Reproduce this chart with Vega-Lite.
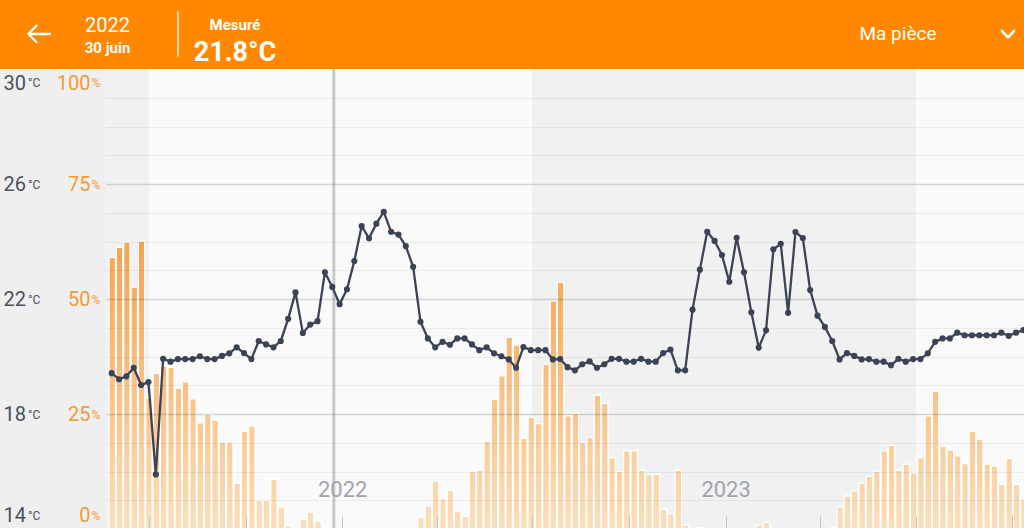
{
  "$schema": "https://vega.github.io/schema/vega-lite/v6.json",
  "background": "#ff8800",
  "padding": 0,
  "spacing": 0,
  "config": {"view": {"stroke": null}, "font": "Roboto"},
  "datasets": {
    "weekly": [
      {"week": "2021-05-23", "temp": 19.42, "pct": 59.0},
      {"week": "2021-05-30", "temp": 19.21, "pct": 61.2},
      {"week": "2021-06-06", "temp": 19.31, "pct": 62.4},
      {"week": "2021-06-13", "temp": 19.61, "pct": 52.6},
      {"week": "2021-06-20", "temp": 19.01, "pct": 62.6},
      {"week": "2021-06-27", "temp": 19.11, "pct": 28.5},
      {"week": "2021-07-04", "temp": 15.90, "pct": 33.8},
      {"week": "2021-07-11", "temp": 19.92, "pct": 35.4},
      {"week": "2021-07-18", "temp": 19.82, "pct": 35.1},
      {"week": "2021-07-25", "temp": 19.91, "pct": 30.6},
      {"week": "2021-08-01", "temp": 19.91, "pct": 32.0},
      {"week": "2021-08-08", "temp": 19.91, "pct": 28.3},
      {"week": "2021-08-15", "temp": 20.01, "pct": 23.1},
      {"week": "2021-08-22", "temp": 19.91, "pct": 24.9},
      {"week": "2021-08-29", "temp": 19.91, "pct": 23.7},
      {"week": "2021-09-05", "temp": 20.02, "pct": 18.9},
      {"week": "2021-09-12", "temp": 20.11, "pct": 18.9},
      {"week": "2021-09-19", "temp": 20.32, "pct": 9.9},
      {"week": "2021-09-26", "temp": 20.12, "pct": 21.2},
      {"week": "2021-10-03", "temp": 19.91, "pct": 22.4},
      {"week": "2021-10-10", "temp": 20.54, "pct": 6.2},
      {"week": "2021-10-17", "temp": 20.42, "pct": 6.2},
      {"week": "2021-10-24", "temp": 20.32, "pct": 10.8},
      {"week": "2021-10-31", "temp": 20.54, "pct": 4.8},
      {"week": "2021-11-07", "temp": 21.31, "pct": 0.7},
      {"week": "2021-11-14", "temp": 22.23, "pct": 0},
      {"week": "2021-11-21", "temp": 20.82, "pct": 2.1},
      {"week": "2021-11-28", "temp": 21.11, "pct": 3.6},
      {"week": "2021-12-05", "temp": 21.23, "pct": 1.7},
      {"week": "2021-12-12", "temp": 22.93, "pct": 0.2},
      {"week": "2021-12-19", "temp": 22.42, "pct": 0},
      {"week": "2021-12-26", "temp": 21.82, "pct": 0},
      {"week": "2022-01-02", "temp": 22.34, "pct": 0},
      {"week": "2022-01-09", "temp": 23.32, "pct": 0},
      {"week": "2022-01-16", "temp": 24.54, "pct": 0},
      {"week": "2022-01-23", "temp": 24.11, "pct": 0},
      {"week": "2022-01-30", "temp": 24.62, "pct": 0},
      {"week": "2022-02-06", "temp": 25.03, "pct": 0},
      {"week": "2022-02-13", "temp": 24.34, "pct": 0},
      {"week": "2022-02-20", "temp": 24.24, "pct": 0},
      {"week": "2022-02-27", "temp": 23.84, "pct": 0},
      {"week": "2022-03-06", "temp": 23.12, "pct": 0},
      {"week": "2022-03-13", "temp": 21.21, "pct": 2.6},
      {"week": "2022-03-20", "temp": 20.63, "pct": 5.0},
      {"week": "2022-03-27", "temp": 20.32, "pct": 10.4},
      {"week": "2022-04-03", "temp": 20.51, "pct": 6.6},
      {"week": "2022-04-10", "temp": 20.41, "pct": 8.4},
      {"week": "2022-04-17", "temp": 20.63, "pct": 3.9},
      {"week": "2022-04-24", "temp": 20.63, "pct": 2.8},
      {"week": "2022-05-01", "temp": 20.42, "pct": 12.5},
      {"week": "2022-05-08", "temp": 20.22, "pct": 12.8},
      {"week": "2022-05-15", "temp": 20.32, "pct": 19.1},
      {"week": "2022-05-22", "temp": 20.11, "pct": 28.2},
      {"week": "2022-05-29", "temp": 20.01, "pct": 33.3},
      {"week": "2022-06-05", "temp": 19.90, "pct": 41.7},
      {"week": "2022-06-12", "temp": 19.61, "pct": 40.0},
      {"week": "2022-06-19", "temp": 20.33, "pct": 19.7},
      {"week": "2022-06-26", "temp": 20.22, "pct": 24.3},
      {"week": "2022-07-03", "temp": 20.22, "pct": 22.9},
      {"week": "2022-07-10", "temp": 20.22, "pct": 35.8},
      {"week": "2022-07-17", "temp": 19.90, "pct": 49.6},
      {"week": "2022-07-24", "temp": 19.91, "pct": 53.6},
      {"week": "2022-07-31", "temp": 19.63, "pct": 24.6},
      {"week": "2022-08-07", "temp": 19.52, "pct": 25.1},
      {"week": "2022-08-14", "temp": 19.73, "pct": 18.8},
      {"week": "2022-08-21", "temp": 19.83, "pct": 19.9},
      {"week": "2022-08-28", "temp": 19.61, "pct": 29.1},
      {"week": "2022-09-04", "temp": 19.73, "pct": 27.3},
      {"week": "2022-09-11", "temp": 19.92, "pct": 15.5},
      {"week": "2022-09-18", "temp": 19.92, "pct": 12.5},
      {"week": "2022-09-25", "temp": 19.82, "pct": 17.0},
      {"week": "2022-10-02", "temp": 19.82, "pct": 17.0},
      {"week": "2022-10-09", "temp": 19.92, "pct": 12.8},
      {"week": "2022-10-16", "temp": 19.82, "pct": 11.9},
      {"week": "2022-10-23", "temp": 19.82, "pct": 11.9},
      {"week": "2022-10-30", "temp": 20.12, "pct": 4.3},
      {"week": "2022-11-06", "temp": 20.24, "pct": 3.3},
      {"week": "2022-11-13", "temp": 19.52, "pct": 12.8},
      {"week": "2022-11-20", "temp": 19.52, "pct": 0.9},
      {"week": "2022-11-27", "temp": 21.63, "pct": 0},
      {"week": "2022-12-04", "temp": 23.02, "pct": 0.3},
      {"week": "2022-12-11", "temp": 24.34, "pct": 0},
      {"week": "2022-12-18", "temp": 24.02, "pct": 0},
      {"week": "2022-12-25", "temp": 23.53, "pct": 0},
      {"week": "2023-01-01", "temp": 22.60, "pct": 0},
      {"week": "2023-01-08", "temp": 24.13, "pct": 0},
      {"week": "2023-01-15", "temp": 22.93, "pct": 0},
      {"week": "2023-01-22", "temp": 21.54, "pct": 0},
      {"week": "2023-01-29", "temp": 20.31, "pct": 0.9},
      {"week": "2023-02-05", "temp": 20.91, "pct": 1.4},
      {"week": "2023-02-12", "temp": 23.73, "pct": 0},
      {"week": "2023-02-19", "temp": 23.92, "pct": 0},
      {"week": "2023-02-26", "temp": 21.52, "pct": 0},
      {"week": "2023-03-05", "temp": 24.33, "pct": 0},
      {"week": "2023-03-12", "temp": 24.12, "pct": 0},
      {"week": "2023-03-19", "temp": 22.31, "pct": 0},
      {"week": "2023-03-26", "temp": 21.42, "pct": 0},
      {"week": "2023-04-02", "temp": 21.03, "pct": 0},
      {"week": "2023-04-09", "temp": 20.54, "pct": 0.3},
      {"week": "2023-04-16", "temp": 19.90, "pct": 4.8},
      {"week": "2023-04-23", "temp": 20.12, "pct": 7.2},
      {"week": "2023-04-30", "temp": 20.02, "pct": 8.3},
      {"week": "2023-05-07", "temp": 19.90, "pct": 9.9},
      {"week": "2023-05-14", "temp": 19.91, "pct": 11.5},
      {"week": "2023-05-21", "temp": 19.82, "pct": 12.6},
      {"week": "2023-05-28", "temp": 19.82, "pct": 17.0},
      {"week": "2023-06-04", "temp": 19.70, "pct": 18.2},
      {"week": "2023-06-11", "temp": 19.92, "pct": 12.8},
      {"week": "2023-06-18", "temp": 19.82, "pct": 14.1},
      {"week": "2023-06-25", "temp": 19.91, "pct": 12.2},
      {"week": "2023-07-02", "temp": 19.91, "pct": 15.5},
      {"week": "2023-07-09", "temp": 20.11, "pct": 24.6},
      {"week": "2023-07-16", "temp": 20.51, "pct": 30.0},
      {"week": "2023-07-23", "temp": 20.63, "pct": 18.0},
      {"week": "2023-07-30", "temp": 20.63, "pct": 17.2},
      {"week": "2023-08-06", "temp": 20.83, "pct": 15.9},
      {"week": "2023-08-13", "temp": 20.74, "pct": 14.2},
      {"week": "2023-08-20", "temp": 20.74, "pct": 21.3},
      {"week": "2023-08-27", "temp": 20.74, "pct": 19.5},
      {"week": "2023-09-03", "temp": 20.74, "pct": 14.1},
      {"week": "2023-09-10", "temp": 20.74, "pct": 13.7},
      {"week": "2023-09-17", "temp": 20.83, "pct": 9.7},
      {"week": "2023-09-24", "temp": 20.72, "pct": 15.3},
      {"week": "2023-10-01", "temp": 20.83, "pct": 9.7},
      {"week": "2023-10-08", "temp": 20.92, "pct": 6.4}
    ],
    "bands": [
      {"start": "2020-07-01", "end": "2021-07-01"},
      {"start": "2022-07-01", "end": "2023-07-01"}
    ],
    "cursor": [{"date": "2021-12-24"}]
  },
  "vconcat": [
    {
      "hconcat": [
        {
          "width": 26, "height": 68,
          "data": {"values": [{"label": ""}]},
          "mark": {"type": "text", "fontSize": 1},
          "encoding": {"text": {"field": "label"}}
        },
        {
          "width": 26, "height": 68,
          "data": {"values": [{"icon": "back"}]},
          "mark": {"type": "point", "shape": "M1,0L-0.95,0M-0.22,-0.75L-0.97,0L-0.22,0.75", "size": 484, "filled": false, "color": "#ffffff", "strokeWidth": 2.3, "strokeCap": "round", "strokeJoin": "round", "opacity": 1},
          "encoding": {}
        },
        {
          "vconcat": [
            {
              "width": 111, "height": 15,
              "data": {"values": [{"label": ""}]},
              "mark": {"type": "text", "fontSize": 1},
              "encoding": {"text": {"field": "label"}}
            },
            {
              "width": 111, "height": 21.5,
              "data": {"values": [{"label": "2022"}]},
              "mark": {"type": "text", "fontSize": 20, "baseline": "middle", "color": "#ffffff"},
              "encoding": {"text": {"field": "label"}}
            },
            {
              "width": 111, "height": 31.5,
              "data": {"values": [{"label": "30 juin"}]},
              "mark": {"type": "text", "fontSize": 15, "fontWeight": "bold", "baseline": "alphabetic", "color": "#ffffff"},
              "encoding": {"text": {"field": "label"}}
            }
          ],
          "spacing": 0
        },
        {
          "width": 30, "height": 68,
          "data": {"values": [{"divider": 1}]},
          "mark": {"type": "tick", "orient": "vertical", "size": 45, "thickness": 1.5, "color": "#ffffff", "opacity": 0.9},
          "encoding": {}
        },
        {
          "vconcat": [
            {
              "width": 80, "height": 36.3,
              "data": {"values": [{"label": "Mesuré"}]},
              "mark": {"type": "text", "fontSize": 15, "fontWeight": "bold", "baseline": "top", "color": "#ffffff"},
              "encoding": {"text": {"field": "label"}}
            },
            {
              "width": 80, "height": 31.7,
              "data": {"values": [{"label": "21.8°C"}]},
              "mark": {"type": "text", "fontSize": 27, "fontWeight": "bold", "baseline": "middle", "color": "#ffffff"},
              "encoding": {"text": {"field": "label"}}
            }
          ],
          "spacing": 0
        },
        {
          "width": 531, "height": 68,
          "data": {"values": [{"label": ""}]},
          "mark": {"type": "text", "fontSize": 1},
          "encoding": {"text": {"field": "label"}}
        },
        {
          "width": 180, "height": 68,
          "data": {"values": [{"label": "Ma pièce"}]},
          "mark": {"type": "text", "fontSize": 19, "baseline": "middle", "color": "#ffffff"},
          "encoding": {"text": {"field": "label"}}
        },
        {
          "width": 40, "height": 68,
          "data": {"values": [{"icon": "expand"}]},
          "mark": {"type": "point", "shape": "M-1,-0.5L0,0.55L1,-0.5", "size": 144, "filled": false, "color": "#ffffff", "strokeWidth": 2.6, "strokeCap": "round", "strokeJoin": "round", "opacity": 1},
          "encoding": {}
        }
      ],
      "spacing": 0
    },
    {
      "hconcat": [
        {
          "width": 106, "height": 460,
          "view": {"fill": "#efeff0", "stroke": null},
          "data": {"values": [{"label": ""}]},
          "mark": {"type": "text", "fontSize": 1},
          "encoding": {"text": {"field": "label"}}
        },
        {
          "width": 918, "height": 460,
          "view": {"fill": "#fafafa", "stroke": null},
          "layer": [
            {
              "data": {"name": "bands"},
              "mark": {"type": "rect", "color": "#f1f1f1", "clip": true},
              "encoding": {
                "x": {"field": "start", "type": "temporal", "axis": null,
                      "scale": {"type": "utc", "nice": false, "domain": [{"year": 2021, "month": 5, "date": 21, "hours": 2, "utc": true}, {"year": 2023, "month": 10, "date": 12, "hours": 2, "utc": true}]}},
                "x2": {"field": "end"}
              }
            },
            {
              "data": {"name": "cursor"},
              "mark": {"type": "rule", "color": "#c9c9c9", "strokeWidth": 3, "clip": true},
              "encoding": {
                "x": {"field": "date", "type": "temporal", "axis": null,
                      "scale": {"type": "utc", "nice": false, "domain": [{"year": 2021, "month": 5, "date": 21, "hours": 2, "utc": true}, {"year": 2023, "month": 10, "date": 12, "hours": 2, "utc": true}]}}
              }
            },
            {
              "data": {"name": "weekly"},
              "mark": {"type": "bar", "stroke": "#ffffff", "strokeWidth": 1, "clip": true},
              "encoding": {
                "x": {"field": "week", "type": "temporal", "timeUnit": "utcyearweek",
                      "scale": {"type": "utc", "nice": false, "domain": [{"year": 2021, "month": 5, "date": 21, "hours": 2, "utc": true}, {"year": 2023, "month": 10, "date": 12, "hours": 2, "utc": true}]},
                      "axis": {"orient": "bottom", "title": null, "labels": false, "domain": false, "grid": false, "ticks": true, "tickSize": -13, "tickColor": "#c4c4c4", "tickWidth": 1, "zindex": 1,
                               "values": [
                                 {"year": 2021, "month": 7, "date": 1, "utc": true},
                                 {"year": 2021, "month": 10, "date": 1, "utc": true},
                                 {"year": 2022, "month": 1, "date": 1, "utc": true},
                                 {"year": 2022, "month": 4, "date": 1, "utc": true},
                                 {"year": 2022, "month": 7, "date": 1, "utc": true},
                                 {"year": 2022, "month": 10, "date": 1, "utc": true},
                                 {"year": 2023, "month": 1, "date": 1, "utc": true},
                                 {"year": 2023, "month": 4, "date": 1, "utc": true},
                                 {"year": 2023, "month": 7, "date": 1, "utc": true},
                                 {"year": 2023, "month": 10, "date": 1, "utc": true}
                               ]}},
                "y": {"field": "pct", "type": "quantitative",
                      "scale": {"domain": [0, 100], "nice": false},
                      "axis": {"orient": "left", "title": null, "values": [0, 25, 50, 75, 100], "grid": false, "domain": false, "ticks": false, "tickSize": 0,
                               "labelExpr": "datum.value", "labelAlign": "right", "labelPadding": 16, "labelFontSize": 20, "labelColor": "#f39a36",
                               "labelBaseline": {"condition": [{"test": "datum.value == 100", "value": "line-top"}, {"test": "datum.value == 0", "value": "line-bottom"}], "value": "middle"},
                               "labelLineHeight": 27.7, "labelFlush": false, "labelOverlap": false, "labelBound": false, "zindex": 1}},
                "color": {"field": "pct", "type": "quantitative", "legend": null,
                          "scale": {"domain": [0, 100], "range": ["#fddeba", "#f27e0e"], "interpolate": "rgb"}}
              }
            },
            {
              "data": {"name": "weekly"},
              "mark": {"type": "bar", "stroke": "#ffffff", "strokeWidth": 1, "clip": true,
                       "fill": {"gradient": "linear", "x1": 0, "y1": 0, "x2": 0, "y2": 1,
                                "stops": [{"offset": 0, "color": "rgba(253,222,186,0)"}, {"offset": 1, "color": "rgba(253,222,186,1)"}]}},
              "encoding": {
                "x": {"field": "week", "type": "temporal", "timeUnit": "utcyearweek",
                      "scale": {"type": "utc", "nice": false, "domain": [{"year": 2021, "month": 5, "date": 21, "hours": 2, "utc": true}, {"year": 2023, "month": 10, "date": 12, "hours": 2, "utc": true}]},
                      "axis": {"orient": "bottom", "title": null, "domain": false, "grid": false, "ticks": false, "tickSize": 0, "offset": -40, "labelPadding": 0,
                               "labelBaseline": "middle", "labelFontSize": 22, "labelColor": "#a0a4ab", "labelFlush": false, "labelOverlap": false, "zindex": 1,
                               "labelExpr": "utcFormat(datum.value, '%Y')",
                               "values": [{"year": 2022, "month": 1, "date": 1, "utc": true}, {"year": 2023, "month": 1, "date": 1, "utc": true}]}},
                "y": {"field": "pct", "type": "quantitative",
                      "scale": {"domain": [0, 100], "nice": false},
                      "axis": {"orient": "left", "title": null, "values": [0, 25, 50, 75, 100], "grid": false, "domain": false, "ticks": false, "tickSize": 0,
                               "labelExpr": "'%'", "labelAlign": "left", "labelPadding": 15, "labelFontSize": 12, "labelColor": "#f39a36",
                               "labelBaseline": {"condition": [{"test": "datum.value == 100", "value": "line-top"}, {"test": "datum.value == 0", "value": "line-bottom"}], "value": "middle"},
                               "labelLineHeight": 27.6, "labelFlush": false, "labelOverlap": false, "labelBound": false, "zindex": 1}}
              }
            },
            {
              "data": {"name": "weekly"},
              "mark": {"type": "line", "color": "#3d4357", "strokeWidth": 2.3, "clip": true},
              "encoding": {
                "x": {"field": "week", "type": "temporal", "timeUnit": "utcyearweek", "bandPosition": 0.5, "axis": null,
                      "scale": {"type": "utc", "nice": false, "domain": [{"year": 2021, "month": 5, "date": 21, "hours": 2, "utc": true}, {"year": 2023, "month": 10, "date": 12, "hours": 2, "utc": true}]}},
                "y": {"field": "temp", "type": "quantitative",
                      "scale": {"domain": [14, 30], "nice": false, "zero": false},
                      "axis": {"orient": "left", "title": null,
                               "values": [14, 15, 16, 17, 18, 19, 20, 21, 22, 23, 24, 25, 26, 27, 28, 29, 30],
                               "grid": true, "gridColor": "#000000",
                               "gridOpacity": {"condition": [{"test": "datum.value == 30 || datum.value == 14", "value": 0}, {"test": "datum.value % 4 == 2", "value": 0.15}], "value": 0.06},
                               "gridWidth": {"condition": [{"test": "datum.value == 30 || datum.value == 14", "value": 0}, {"test": "datum.value % 4 == 2", "value": 1.3}], "value": 1},
                               "domain": false, "ticks": false, "tickSize": 0,
                               "labelExpr": "datum.value % 4 == 2 ? datum.label : ''",
                               "labelAlign": "left", "labelPadding": 103, "labelFontSize": 20, "labelColor": "#4a4f5e",
                               "labelBaseline": {"condition": [{"test": "datum.value == 30", "value": "line-top"}, {"test": "datum.value == 14", "value": "line-bottom"}], "value": "middle"},
                               "labelLineHeight": 27.7, "labelFlush": false, "labelOverlap": false, "labelBound": false, "zindex": 1}}
              }
            },
            {
              "data": {"name": "weekly"},
              "mark": {"type": "point", "filled": true, "size": 38, "color": "#3d4357", "opacity": 1, "clip": true},
              "encoding": {
                "x": {"field": "week", "type": "temporal", "timeUnit": "utcyearweek", "bandPosition": 0.5, "axis": null,
                      "scale": {"type": "utc", "nice": false, "domain": [{"year": 2021, "month": 5, "date": 21, "hours": 2, "utc": true}, {"year": 2023, "month": 10, "date": 12, "hours": 2, "utc": true}]}},
                "y": {"field": "temp", "type": "quantitative",
                      "scale": {"domain": [14, 30], "nice": false, "zero": false},
                      "axis": {"orient": "left", "title": null, "values": [14, 18, 22, 26, 30], "grid": false, "domain": false, "ticks": false, "tickSize": 0,
                               "labelExpr": "'°C'", "labelAlign": "left", "labelPadding": 78.5, "labelFontSize": 12, "labelColor": "#4a4f5e",
                               "labelBaseline": {"condition": [{"test": "datum.value == 30", "value": "line-top"}, {"test": "datum.value == 14", "value": "line-bottom"}], "value": "middle"},
                               "labelLineHeight": 27.6, "labelFlush": false, "labelOverlap": false, "labelBound": false, "zindex": 1}}
              }
            }
          ],
          "resolve": {"scale": {"y": "independent"}, "axis": {"x": "independent", "y": "independent"}}
        }
      ],
      "spacing": 0, "bounds": "flush"
    }
  ]
}
